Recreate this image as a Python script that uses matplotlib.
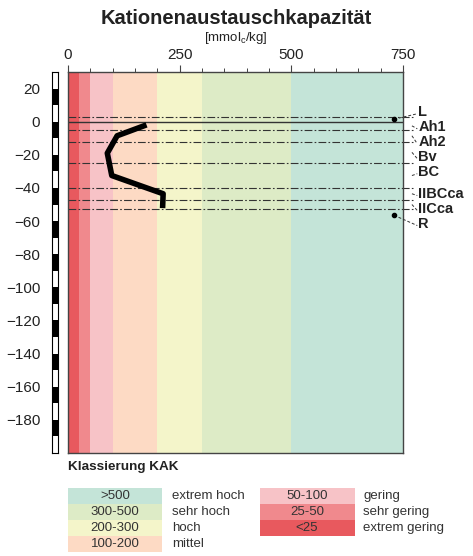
import matplotlib
matplotlib.use("Agg")
import matplotlib.pyplot as plt
from matplotlib.patches import Rectangle

plt.rcParams['font.family'] = ['Liberation Sans', 'DejaVu Sans']

# KAK-Klassen (Grenzen in mmol_c/kg) und Farben
class_edges = [0, 25, 50, 100, 200, 300, 500, 750]
class_colors = ['#E8595E', '#F0898D', '#F7C3C7', '#FDDAC4', '#F4F5CA', '#DDEBC6', '#C4E4D8']

# Horizontgrenzen [cm] und Bezeichnungen
horizon_bounds = [3, -5, -12, -25, -40, -47, -53]
horizon_names = ['L', 'Ah1', 'Ah2', 'Bv', 'BC', 'IIBCca', 'IICca', 'R']
horizon_mid = [1.5, -2.5, -8.5, -18.5, -32.5, -43.5, -50, -56.5]
label_y = [5.8, -3.3, -12.3, -21.3, -30.4, -43.6, -52.6, -61.7]

# Messwerte KAK je Horizont
depth = [-2.5, -8.5, -19, -32.5, -43.5, -50.5]
kak = [170, 110, 88, 98, 213, 212]

# Legende
legend_left = ['>500', '300-500', '200-300', '100-200']
legend_left_txt = ['extrem hoch', 'sehr hoch', 'hoch', 'mittel']
legend_left_col = ['#C4E4D8', '#DDEBC6', '#F4F5CA', '#FDDAC4']
legend_right = ['50-100', '25-50', '<25']
legend_right_txt = ['gering', 'sehr gering', 'extrem gering']
legend_right_col = ['#F7C3C7', '#F0898D', '#E8595E']

W, H = 473, 556
fig = plt.figure(figsize=(W / 100, H / 100), dpi=100)


def fx(px):
    return px / W


def fy(py):
    return 1 - py / H


ax = fig.add_axes([fx(68), fy(453), fx(403) - fx(68), fy(72) - fy(453)])
ax.set_xlim(0, 750)
ax.set_ylim(-200, 30)

# farbige Klassenbänder
for i in range(len(class_colors)):
    ax.axvspan(class_edges[i], class_edges[i + 1], color=class_colors[i], lw=0, zorder=0)

# Horizontgrenzen
for b in horizon_bounds:
    ax.plot([0, 772], [b, b], color='#333333', lw=0.8, ls=(0, (7, 2, 1.5, 2)),
            clip_on=False, zorder=2)
ax.plot([0, 750], [0, 0], color='#333333', lw=1.0, zorder=2)

# KAK-Profil
ax.plot(kak, depth, color='black', lw=4, solid_joinstyle='round', zorder=4)

# Punkte für L und R
ax.plot([730, 730], [1.6, -56.6], 'o', color='black', ms=3, zorder=4)

# Horizontbezeichnungen mit Hinweislinien
for i, name in enumerate(horizon_names):
    x0 = 730 if name in ('L', 'R') else 770
    ax.plot([x0, 782], [horizon_mid[i], label_y[i] - 1], color='#333333', lw=0.7,
            ls=(0, (3, 2)), clip_on=False, zorder=3)
    ax.text(784, label_y[i], name, fontsize=10.5, fontweight='bold', va='center',
            ha='left', clip_on=False, color='#222222')

# Achsen
ax.xaxis.tick_top()
ax.set_xticks([0, 250, 500, 750])
ax.set_xticks(range(0, 751, 50), minor=True)
ax.tick_params(axis='x', which='major', length=5, width=0.8, color='#444444',
               labelsize=11, pad=2, top=True, bottom=False, labelcolor='#222222')
ax.tick_params(axis='x', which='minor', length=3, width=0.7, color='#444444',
               top=True, bottom=False)
ax.set_yticks(range(-180, 21, 20))
ax.tick_params(axis='y', length=0, labelsize=11, pad=20, labelcolor='#222222')
for s in ax.spines.values():
    s.set_color('#444444')
    s.set_linewidth(1.0)

# Tiefenmaßstab (10 cm Blöcke)
bar = fig.add_axes([fx(52), fy(453), fx(6), fy(72) - fy(453)])
bar.set_xlim(0, 1)
bar.set_ylim(-200, 30)
for top in range(30, -200, -10):
    black = (top % 20 == 0)
    bar.add_patch(Rectangle((0, top - 10), 1, 10, facecolor='black' if black else 'white',
                            edgecolor='none'))
bar.set_xticks([])
bar.set_yticks([])
for s in bar.spines.values():
    s.set_color('black')
    s.set_linewidth(0.8)

# Titel
fig.text(fx(236), fy(18), 'Kationenaustauschkapazität', fontsize=14.5, fontweight='bold',
         ha='center', va='center', color='#222222')
fig.text(fx(236), fy(38), '[mmol$_\\mathregular{c}$/kg]', fontsize=9.5, ha='center',
         va='center', color='#222222')

# Legende Klassierung
fig.text(fx(68), fy(467), 'Klassierung KAK', fontsize=9.7, fontweight='bold',
         ha='left', va='center', color='#222222')
row_h = 16
for i, lab in enumerate(legend_left):
    y0 = 488 + i * row_h
    fig.patches.append(Rectangle((fx(68), fy(y0 + row_h)), fx(94), row_h / H,
                                 transform=fig.transFigure, facecolor=legend_left_col[i],
                                 edgecolor='none'))
    fig.text(fx(115), fy(y0 + row_h / 2), lab, fontsize=9.5, ha='center', va='center',
             color='#333333')
    fig.text(fx(172), fy(y0 + row_h / 2), legend_left_txt[i], fontsize=9.5, ha='left',
             va='center', color='#333333')
for i, lab in enumerate(legend_right):
    y0 = 488 + i * row_h
    fig.patches.append(Rectangle((fx(260), fy(y0 + row_h)), fx(95), row_h / H,
                                 transform=fig.transFigure, facecolor=legend_right_col[i],
                                 edgecolor='none'))
    fig.text(fx(307), fy(y0 + row_h / 2), lab, fontsize=9.5, ha='center', va='center',
             color='#333333')
    fig.text(fx(363), fy(y0 + row_h / 2), legend_right_txt[i], fontsize=9.5, ha='left',
             va='center', color='#333333')

fig.savefig('out.png', dpi=100)
